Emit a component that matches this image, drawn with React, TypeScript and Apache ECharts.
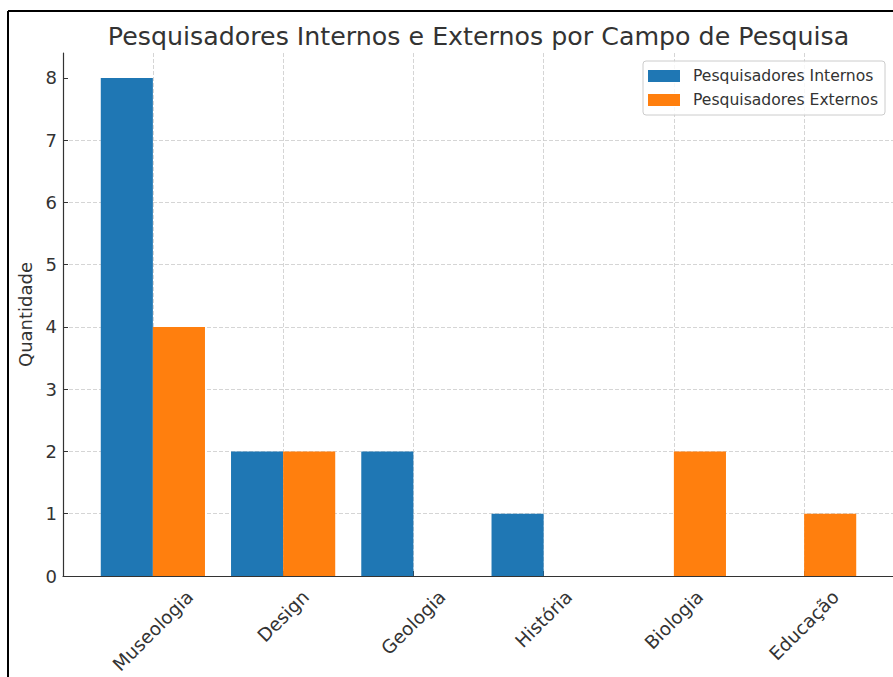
import React, { useEffect, useRef } from 'react';
import * as echarts from 'echarts';

// ---- data ----
const categories = ['Museologia', 'Design', 'Geologia', 'História', 'Biologia', 'Educação'];
const internos = [8, 2, 2, 1, 0, 0];
const externos = [4, 2, 0, 0, 2, 1];
const seriesNames = ['Pesquisadores Internos', 'Pesquisadores Externos'];
const yTicks = [0, 1, 2, 3, 4, 5, 6, 7, 8];
const titleText = 'Pesquisadores Internos e Externos por Campo de Pesquisa';
const yAxisTitle = 'Quantidade';

// ---- layout / style ----
const W = 893;
const H = 677;
const FONT = '"DejaVu Sans", "Noto Sans", sans-serif';
const TEXT = '#333333';
const BLUE = '#1f77b4';
const ORANGE = '#ff7f0e';
const GRID_COLOR = '#cacaca';
const PLOT_LEFT = 63;
const PLOT_RIGHT = 894;
const PLOT_TOP = 53;
const PLOT_BOTTOM = 576;
const XTICK_FS = 18.5;
const YTICK_FS = 18;
const LABEL_PAD = 10;

export default function App() {
  const ref = useRef<HTMLDivElement>(null);

  useEffect(() => {
    document.body.style.margin = '0';
    if (!ref.current) return;
    const chart = echarts.init(ref.current, undefined, { renderer: 'svg' });

    const n = categories.length;
    const barW = 0.4; // in category units
    const sidePad = barW + 0.05 * (n - 1 + 2 * barW);
    const unit = (PLOT_RIGHT - PLOT_LEFT) / (n - 1 + 2 * sidePad);
    const g1Left = PLOT_LEFT + (sidePad - 0.5) * unit;
    const g1RightEdge = PLOT_RIGHT - (sidePad - 0.5) * unit;

    const yMax = Math.max(...internos, ...externos) * 1.05;

    // measure label widths to mimic centred rotated labels
    const canvas = document.createElement('canvas');
    const ctx = canvas.getContext('2d')!;
    ctx.font = `${XTICK_FS}px ${FONT}`;
    const lineH = 1.164 * XTICK_FS;
    const widths = categories.map((c) => ctx.measureText(c).width);

    const dashed = { color: GRID_COLOR, width: 0.8, type: [4, 2] as any };

    chart.setOption({
      animation: false,
      backgroundColor: '#ffffff',
      textStyle: { fontFamily: FONT },
      title: {
        text: titleText,
        left: (PLOT_LEFT + PLOT_RIGHT) / 2 - 5,
        textAlign: 'center',
        top: 19,
        textStyle: { fontSize: 25.3, fontWeight: 'normal', color: TEXT, fontFamily: FONT },
      },
      legend: {
        data: seriesNames,
        orient: 'vertical',
        left: 643,
        top: 61,
        icon: 'rect',
        itemWidth: 32,
        itemHeight: 12,
        itemGap: 8,
        padding: [7, 7, 7, 5],
        borderColor: '#cccccc',
        borderWidth: 1,
        borderRadius: 3,
        backgroundColor: 'rgba(255,255,255,0.8)',
        textStyle: { fontSize: 15.6, color: TEXT, fontFamily: FONT, padding: [0, 0, 0, 8] },
      },
      grid: [
        {
          left: PLOT_LEFT, right: W - PLOT_RIGHT, top: PLOT_TOP, bottom: H - PLOT_BOTTOM,
          containLabel: false, outerBoundsMode: 'none',
        } as any,
        {
          left: g1Left, right: W - g1RightEdge, top: PLOT_TOP, bottom: H - PLOT_BOTTOM,
          containLabel: false, outerBoundsMode: 'none',
        } as any,
      ],
      xAxis: [
        {
          type: 'value',
          gridIndex: 0,
          min: 0,
          max: 1,
          axisLine: { show: true, onZero: false, lineStyle: { color: TEXT, width: 1.2 } },
          axisTick: { show: false },
          axisLabel: { show: false },
          splitLine: { show: false },
        },
        {
          type: 'category',
          gridIndex: 1,
          data: categories,
          axisLine: { show: false },
          axisTick: { show: true, inside: true, alignWithLabel: true, length: 5, interval: 0, lineStyle: { color: TEXT } },
          splitLine: { show: true, alignWithLabel: true, interval: 0, lineStyle: dashed } as any,
          axisLabel: { show: false },
        },
      ],
      yAxis: [
        {
          type: 'value',
          gridIndex: 0,
          min: yTicks[0],
          max: yMax,
          interval: yTicks[1] - yTicks[0],
          name: yAxisTitle,
          nameLocation: 'middle',
          nameGap: 26,
          nameTextStyle: { fontSize: 18, color: TEXT, fontFamily: FONT },
          axisLine: { show: true, lineStyle: { color: TEXT, width: 1.2 } },
          axisTick: { show: true, inside: true, length: 5, lineStyle: { color: TEXT }, customValues: yTicks } as any,
          axisLabel: {
            fontSize: YTICK_FS,
            color: TEXT,
            margin: 6,
            fontFamily: FONT,
            formatter: (v: number) => (Number.isInteger(v) ? String(v) : ''),
          },
          splitLine: { show: true, showMaxLine: false, showMinLine: false, lineStyle: dashed } as any,
        },
        {
          type: 'value',
          gridIndex: 1,
          min: yTicks[0],
          max: yMax,
          show: false,
          splitLine: { show: false },
        },
      ],
      series: [
        {
          name: seriesNames[0],
          type: 'bar',
          xAxisIndex: 1,
          yAxisIndex: 1,
          data: internos,
          barWidth: barW * unit,
          barGap: '0%',
          itemStyle: { color: BLUE },
          clip: false,
        },
        {
          name: seriesNames[1],
          type: 'bar',
          xAxisIndex: 1,
          yAxisIndex: 1,
          data: externos,
          barWidth: barW * unit,
          barGap: '0%',
          itemStyle: { color: ORANGE },
          clip: false,
        },
        {
          name: 'category-labels',
          type: 'custom',
          xAxisIndex: 1,
          yAxisIndex: 1,
          silent: true,
          clip: false,
          data: categories.map((_, i) => [i, 0]),
          renderItem: (params: any, api: any) => {
            const i = api.value(0);
            const base = api.coord([i, 0]);
            const d = LABEL_PAD + 0.3536 * (widths[i] + lineH);
            return {
              type: 'text',
              x: base[0],
              y: base[1] + d,
              rotation: Math.PI / 4,
              style: {
                text: categories[i],
                fill: TEXT,
                fontSize: XTICK_FS,
                fontFamily: FONT,
                align: 'center',
                verticalAlign: 'middle',
              },
            };
          },
        },
      ],
      graphic: [
        { type: 'line', shape: { x1: 8, y1: 11, x2: W, y2: 11 }, style: { stroke: '#000', lineWidth: 2 }, silent: true },
        { type: 'line', shape: { x1: 8, y1: 11, x2: 8, y2: H }, style: { stroke: '#000', lineWidth: 2 }, silent: true },
      ],
    });

    return () => chart.dispose();
  }, []);

  return <div ref={ref} style={{ width: W, height: H }} />;
}
